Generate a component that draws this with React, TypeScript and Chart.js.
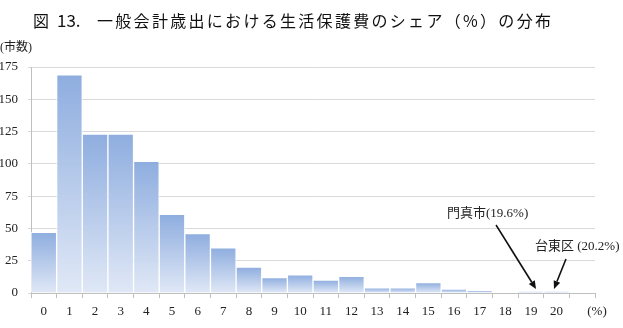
import React, { useEffect, useRef } from "react";
import { Chart, registerables } from "chart.js";

Chart.register(...registerables);

const categories = ["0","1","2","3","4","5","6","7","8","9","10","11","12","13","14","15","16","17","18","19","20",""];
const counts = [47,169,123,123,102,61,46,35,20,12,14,10,13,4,4,8,3,2,0,1,1,0];
const yTicks = [0,25,50,75,100,125,150,175];

const TITLE_A = "図";
const TITLE_B = "13.";
const TITLE_C = "一般会計歳出における生活保護費のシェア（%）の分布";
const Y_UNIT = "(市数)";
const X_UNIT = "(%)";
const NOTE1 = "門真市(19.6%)";
const NOTE2 = "台東区 (20.2%)";

const SERIF = "'Liberation Serif', 'Noto Sans CJK JP', serif";
const GOTHIC = "'Noto Sans CJK JP', sans-serif";

function arrow(ctx: CanvasRenderingContext2D, x0: number, y0: number, x1: number, y1: number) {
  const ang = Math.atan2(y1 - y0, x1 - x0);
  const hl = 8, hw = 3.5;
  const bx = x1 - hl * Math.cos(ang), by = y1 - hl * Math.sin(ang);
  ctx.beginPath();
  ctx.moveTo(x0, y0);
  ctx.lineTo(bx, by);
  ctx.strokeStyle = "#111";
  ctx.lineWidth = 1.6;
  ctx.stroke();
  ctx.beginPath();
  ctx.moveTo(x1, y1);
  ctx.lineTo(bx + hw * Math.sin(ang), by - hw * Math.cos(ang));
  ctx.lineTo(bx - hw * Math.sin(ang), by + hw * Math.cos(ang));
  ctx.closePath();
  ctx.fillStyle = "#111";
  ctx.fill();
}

const decorPlugin = {
  id: "decor",
  afterDraw(chart: any) {
    const ctx: CanvasRenderingContext2D = chart.ctx;
    const xs = chart.scales.x;
    const ys = chart.scales.y;
    const ca = chart.chartArea;
    ctx.save();
    ctx.fillStyle = "#111";
    ctx.textBaseline = "middle";
    ctx.textAlign = "left";
    ctx.font = `400 16px ${GOTHIC}`;
    ctx.fillText(TITLE_A, 33, 21);
    ctx.font = `400 17px ${GOTHIC}`;
    ctx.fillText(TITLE_B, 57, 21);
    ctx.font = `400 16px ${GOTHIC}`;
    (ctx as any).letterSpacing = "2.3px";
    ctx.fillText(TITLE_C, 97, 21);
    (ctx as any).letterSpacing = "0px";
    ctx.fillStyle = "#222";
    ctx.font = `12px ${SERIF}`;
    ctx.fillText(Y_UNIT, 0, 48);
    ctx.font = `13px ${SERIF}`;
    ctx.textAlign = "center";
    ctx.fillText(X_UNIT, ca.right + 2, 312);
    const binW = (ca.right - ca.left) / categories.length;
    const base = ys.getPixelForValue(0);
    const tip1x = xs.getPixelForValue(19) + binW * 0.2;
    const tip2x = xs.getPixelForValue(20) - binW * 0.1;
    ctx.textAlign = "left";
    ctx.font = `13px ${SERIF}`;
    ctx.fillStyle = "#222";
    ctx.fillText(NOTE1, tip1x - 89, base - 79);
    ctx.fillText(NOTE2, tip2x - 19, base - 46);
    arrow(ctx, tip1x - 40, base - 68, tip1x, base - 4);
    arrow(ctx, tip2x + 12, base - 34, tip2x, base - 4);
    ctx.restore();
  },
};

export default function App() {
  const ref = useRef<HTMLCanvasElement | null>(null);
  useEffect(() => {
    if (!ref.current) return;
    const chart = new Chart(ref.current, {
      type: "bar",
      data: {
        labels: categories,
        datasets: [
          {
            data: counts,
            backgroundColor: (c: any) => {
              const ch = c.chart;
              const ys = ch.scales?.y;
              if (!ys || typeof c.raw !== "number") return "#a9c0e6";
              const y0 = ys.getPixelForValue(c.raw);
              const y1 = ys.getPixelForValue(0);
              if (!isFinite(y0) || !isFinite(y1) || y1 - y0 < 1) return "#b8cbea";
              const g = ch.ctx.createLinearGradient(0, y0, 0, y1);
              g.addColorStop(0, "#8eaddf");
              g.addColorStop(1, "#e0e8f6");
              return g;
            },
            borderColor: "rgba(255,255,255,0.75)",
            borderWidth: 1,
            barPercentage: 1,
            categoryPercentage: 1,
          },
        ],
      },
      options: {
        animation: false,
        responsive: false,
        layout: { padding: { top: 67, right: 28, left: 0, bottom: 0 } },
        plugins: { legend: { display: false }, tooltip: { enabled: false }, title: { display: false } },
        scales: {
          x: {
            afterFit: (s: any) => { s.height = 35; },
            grid: { display: true, drawOnChartArea: false, drawTicks: true, tickLength: 5, offset: true, color: "#bfbfbf" },
            border: { color: "#bfbfbf" },
            ticks: { color: "#222", font: { family: SERIF, size: 13 }, padding: 6, maxRotation: 0, autoSkip: false },
          },
          y: {
            min: 0,
            max: 175,
            afterFit: (s: any) => { s.width = 31; },
            afterBuildTicks: (s: any) => { s.ticks = yTicks.map((v) => ({ value: v })); },
            grid: { color: "#d9d9d9", tickLength: 3 },
            border: { color: "#bfbfbf" },
            ticks: { color: "#222", font: { family: SERIF, size: 13 }, padding: 10 },
          },
        },
      },
      plugins: [decorPlugin],
    });
    return () => chart.destroy();
  }, []);
  return (
    <div style={{ position: "absolute", left: 0, top: 0, width: 623, height: 328, background: "#fff" }}>
      <canvas ref={ref} width={623} height={328} style={{ width: 623, height: 328 }} />
    </div>
  );
}
